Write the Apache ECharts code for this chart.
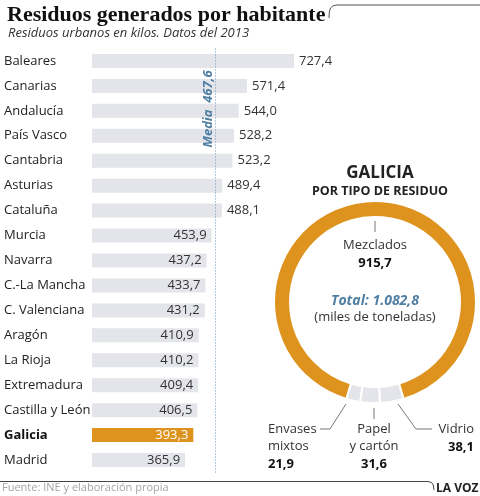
<!DOCTYPE html>
<html>
<head>
<meta charset="utf-8">
<script src="https://cdn.jsdelivr.net/npm/echarts@6/dist/echarts.min.js"></script>
<style>
  html, body { margin: 0; padding: 0; background: #fff; }
  #main { width: 480px; height: 496px; }
</style>
</head>
<body>
<div id="main"></div>
<script>
// residuos urbanos por habitante (kg), 2013
const regions = ["Baleares", "Canarias", "Andalucía", "País Vasco", "Cantabria", "Asturias",
  "Cataluña", "Murcia", "Navarra", "C.-La Mancha", "C. Valenciana", "Aragón", "La Rioja",
  "Extremadura", "Castilla y León", "Galicia", "Madrid"];
const kilos = [727.4, 571.4, 544.0, 528.2, 523.2, 489.4, 488.1, 453.9, 437.2, 433.7, 431.2,
  410.9, 410.2, 409.4, 406.5, 393.3, 365.9];
const media = 467.6;

// Galicia por tipo de residuo (miles de toneladas)
const tipos = ["Mezclados", "Vidrio", "Papel\ny cartón", "Envases\nmixtos"];
const toneladas = [915.7, 38.1, 31.6, 21.9];
const totalToneladas = 1082.8;

const ORANGE = "#df931f";
const GREY = "#e4e5ea";
const BLUE = "#4f7ea3";
const FONT = "Open Sans";

function fmt(v) {
  const parts = v.toFixed(1).split(".");
  const ent = parts[0].replace(/\B(?=(\d{3})+(?!\d))/g, ".");
  return ent + "," + parts[1];
}

const chart = echarts.init(document.getElementById("main"));

const barData = kilos.map(function (v, i) {
  const isGal = regions[i] === "Galicia";
  return {
    value: v,
    itemStyle: { color: isGal ? ORANGE : GREY },
    label: {
      position: v > media ? "right" : "insideRight",
      distance: 5,
      color: isGal ? "#fff" : "#333"
    }
  };
});

// the small slices sit centered at the bottom of the ring
const sumTipos = toneladas.reduce(function (a, b) { return a + b; }, 0);
const restoAngle = (sumTipos - toneladas[0]) / sumTipos * 360;
const startAngle = 270 - restoAngle / 2;

const pieLabelPos = [
  { x: 375, y: 237, align: "center", verticalAlign: "top",
    labelLinePoints: [[375, 221], [375, 226], [375, 232]] },
  { x: 474, y: 421, align: "right", verticalAlign: "top",
    labelLinePoints: [[398, 404], [416, 429], [432, 429]] },
  { x: 374, y: 421, align: "center", verticalAlign: "top",
    labelLinePoints: [[374, 408], [374, 413], [374, 419]] },
  { x: 268, y: 421, align: "left", verticalAlign: "top",
    labelLinePoints: [[346, 404], [330, 429], [320, 429]] }
];

const option = {
  animation: false,
  textStyle: { fontFamily: FONT },
  title: [
    {
      text: "Residuos generados por habitante",
      left: 2, top: -1,
      textStyle: { fontFamily: "Liberation Serif", fontWeight: "bold", fontSize: 22, color: "#111" }
    },
    {
      text: "Residuos urbanos en kilos. Datos del 2013",
      left: 3, top: 22,
      textStyle: { fontFamily: FONT, fontStyle: "italic", fontWeight: "normal", fontSize: 13, color: "#333" }
    },
    {
      text: "GALICIA",
      left: 375, top: 160, textAlign: "center",
      textStyle: { fontFamily: FONT, fontWeight: "bold", fontSize: 17, color: "#222" }
    },
    {
      text: "POR TIPO DE RESIDUO",
      left: 375, top: 180, textAlign: "center",
      textStyle: { fontFamily: FONT, fontWeight: "bold", fontSize: 12.5, color: "#222" }
    }
  ],
  grid: { left: 92, top: 48.5, width: 202, height: 424, containLabel: false },
  xAxis: { type: "value", min: 57, max: 727.4, show: false },
  yAxis: {
    type: "category",
    data: regions,
    inverse: true,
    axisLine: { show: false },
    axisTick: { show: false },
    axisLabel: {
      align: "left",
      margin: 88,
      fontSize: 13,
      color: "#222",
      formatter: function (v) { return v === "Galicia" ? "{b|" + v + "}" : v; },
      rich: { b: { fontWeight: "bold", fontSize: 13, color: "#111" } }
    }
  },
  series: [
    {
      type: "bar",
      data: barData,
      barWidth: 14,
      label: {
        show: true,
        fontSize: 13,
        formatter: function (p) { return fmt(p.value); }
      },
      markLine: {
        silent: true,
        symbol: "none",
        data: [{ xAxis: media }],
        lineStyle: { type: [1, 2], color: "#6f93b2", width: 1 },
        label: { show: false }
      }
    },
    {
      type: "pie",
      center: [375, 302],
      radius: [85, 101],
      startAngle: startAngle,
      avoidLabelOverlap: false,
      data: toneladas.map(function (v, i) {
        return { name: tipos[i], value: v, itemStyle: { color: i === 0 ? ORANGE : GREY } };
      }),
      itemStyle: { borderColor: "#fff", borderWidth: 2 },
      label: {
        show: true,
        position: "outside",
        formatter: function (p) {
          return p.name.split("\n").map(function (s) { return "{n|" + s + "}"; }).join("\n") +
            "\n{v|" + fmt(p.value) + "}";
        },
        rich: {
          n: { fontSize: 13, color: "#333", lineHeight: 17, fontFamily: FONT },
          v: { fontSize: 13, fontWeight: "bold", color: "#111", lineHeight: 18, fontFamily: FONT }
        }
      },
      labelLine: { show: true, lineStyle: { color: "#777", width: 1 } },
      labelLayout: function (params) { return pieLabelPos[params.dataIndex]; },
      emphasis: { disabled: true }
    }
  ],
  graphic: [
    {
      type: "text",
      x: 208, y: 109, rotation: Math.PI / 2, z: 100,
      style: { text: "Media  " + fmt(media), fontFamily: FONT, fontSize: 13,
        fontStyle: "italic", fontWeight: "bold", fill: BLUE, align: "center", verticalAlign: "middle" }
    },
    {
      type: "text",
      style: { text: "Total: " + fmt(totalToneladas), fontFamily: FONT, fontSize: 14,
        fontStyle: "italic", fontWeight: "bold", fill: BLUE, x: 375, y: 294, align: "center" }
    },
    {
      type: "text",
      style: { text: "(miles de toneladas)", fontFamily: FONT, fontSize: 13, fill: "#333",
        x: 375, y: 311, align: "center" }
    },
    {
      type: "polyline",
      shape: { points: [[329, 18], [329.3, 12], [330.5, 8], [333, 5.8], [337, 5], [480, 5]] },
      style: { stroke: "#555", lineWidth: 1, fill: null }
    },
    {
      type: "polyline",
      shape: { points: [[0, 481.5], [428, 481.5], [431.5, 482.5], [433.3, 485], [434, 490]] },
      style: { stroke: "#444", lineWidth: 1, fill: null }
    },
    {
      type: "text",
      style: { text: "Fuente: INE y elaboración propia", fontFamily: FONT, fontSize: 11,
        fill: "#a5a5a5", x: 2, y: 482 }
    },
    {
      type: "text",
      style: { text: "LA VOZ", fontFamily: FONT, fontSize: 12, fontWeight: "bold",
        fill: "#222", x: 436, y: 483 }
    }
  ]
};

chart.setOption(option);
</script>
</body>
</html>
